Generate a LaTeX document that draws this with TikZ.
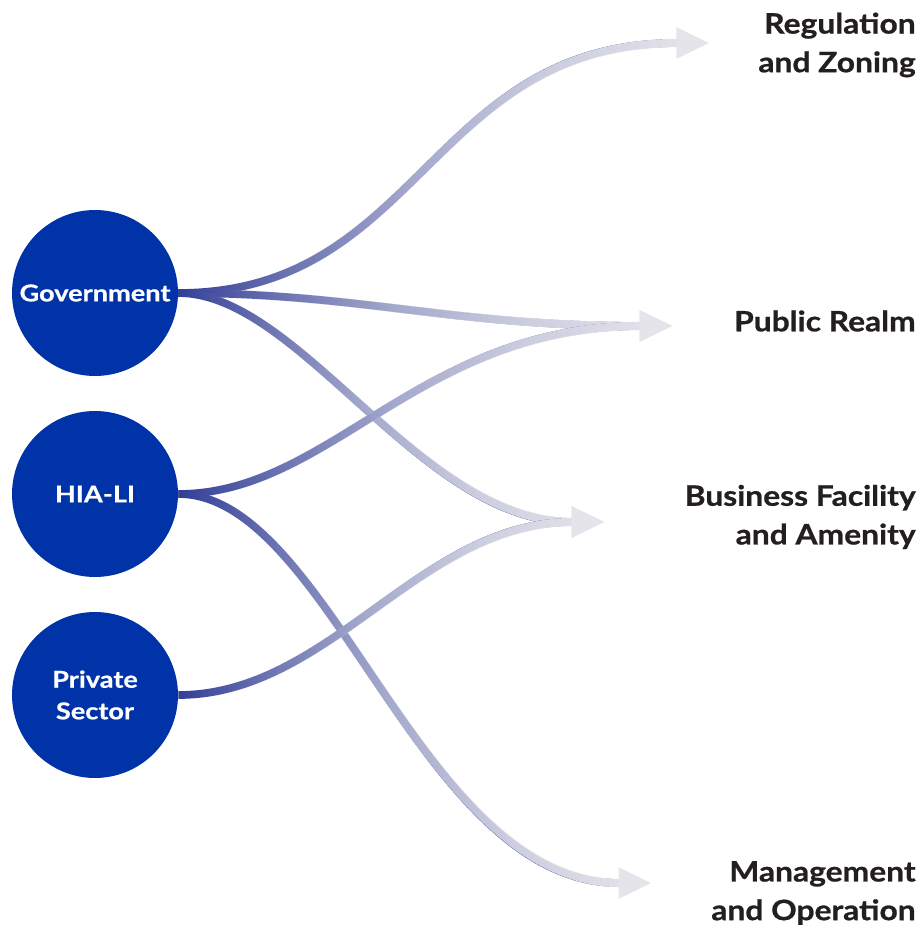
\documentclass[tikz,border=0pt]{standalone}
\usepackage{fontspec}
\setmainfont{Lato}
\newfontfamily\widefont{Lato}[FakeStretch=1.13, FakeBold=0.8]
\newfontfamily\wideractor{Lato}[FakeStretch=1.17, FakeBold=0.6]
\usetikzlibrary{arrows.meta,fadings}
\definecolor{actorblue}{RGB}{0,51,168}
\definecolor{linkdark}{RGB}{48,60,150}
\definecolor{linklight}{RGB}{228,228,234}
\definecolor{ink}{RGB}{35,31,32}
% light layer comes in from the left (path box sits on 25bp..75bp)
\pgfdeclarehorizontalshading{linkramp}{100bp}{color(0bp)=(black); color(25bp)=(black);
  color(36bp)=(black!66); color(47bp)=(black!35); color(60bp)=(black!13);
  color(73bp)=(white); color(100bp)=(white)}
\pgfdeclarefading{fade in east}{\pgfuseshading{linkramp}}
\tikzset{
  actor/.style={circle, fill=actorblue, minimum size=3.32cm, inner sep=0pt,
              text=white, align=center, font=\wideractor\bfseries\fontsize{13.2}{18}\selectfont},
  target/.style={anchor=east, align=right, text=ink, inner sep=0pt,
              font=\widefont\bfseries\fontsize{16}{22}\selectfont},
  linkbase/.style={draw=linkdark, line width=4.4pt, shorten >=19pt},
  linktop/.style={draw=linklight, line width=4.7pt, path fading=fade in east,
              -{Triangle[length=19pt, width=16.5pt]}},
}
\begin{document}
\begin{tikzpicture}[x=0.02cm, y=-0.02cm]
  \useasboundingbox (0,0) rectangle (922,925);
  % sources
  \node[actor] (gov)  at (95,293) {Government};
  \node[actor] (hia)  at (95,494) {HIA-LI};
  \node[actor] (priv) at (95,695) {Private\\Sector};
  % outcomes
  \node[target] (reg)  at (916,45)  {Regulation\\and Zoning};
  \node[target] (pub)  at (916,321) {Public Realm};
  \node[target] (bus)  at (916,517) {Business Facility\\and Amenity};
  \node[target] (mgmt) at (916,893) {Management\\and Operation};
  \coordinate (regtip)  at (710,43);
  \coordinate (pubtip)  at (673,326);
  \coordinate (bustip)  at (605,522);
  \coordinate (mgmttip) at (652,883);
  % links, dark underneath, light faded in on top
  \draw[linkbase] (gov.east) .. controls (420,293) and (430,43) .. (regtip);
  \draw[linktop]  (gov.east) .. controls (420,293) and (430,43) .. (regtip);
  \draw[linkbase] (gov.east) .. controls (360,293) and (450,326) .. (pubtip);
  \draw[linktop]  (gov.east) .. controls (360,293) and (450,326) .. (pubtip);
  \draw[linkbase] (gov.east) .. controls (300,293) and (420,522) .. (bustip);
  \draw[linktop]  (gov.east) .. controls (300,293) and (420,522) .. (bustip);
  \draw[linkbase] (hia.east) .. controls (330,494) and (420,326) .. (pubtip);
  \draw[linktop]  (hia.east) .. controls (330,494) and (420,326) .. (pubtip);
  \draw[linkbase] (hia.east) .. controls (330,494) and (420,883) .. (mgmttip);
  \draw[linktop]  (hia.east) .. controls (330,494) and (420,883) .. (mgmttip);
  \draw[linkbase] (priv.east) .. controls (330,695) and (420,522) .. (bustip);
  \draw[linktop]  (priv.east) .. controls (330,695) and (420,522) .. (bustip);
\end{tikzpicture}
\end{document}
